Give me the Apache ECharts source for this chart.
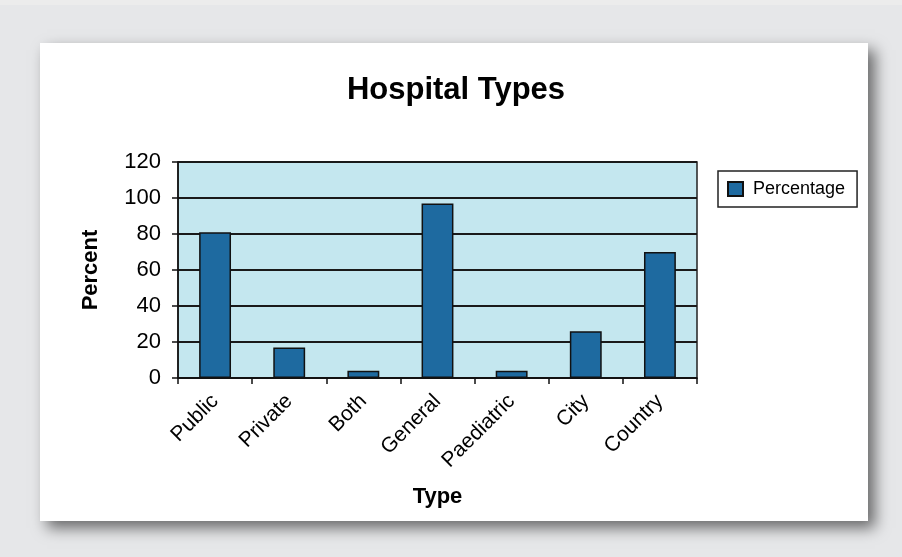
<!DOCTYPE html>
<html>
<head>
<meta charset="utf-8">
<script src="https://cdn.jsdelivr.net/npm/echarts@6/dist/echarts.min.js"></script>
<style>html,body{margin:0;padding:0;background:#e6e7e9;}#c{width:902px;height:557px;}</style>
</head>
<body>
<div id="c"></div>
<script>
const categories = ['Public', 'Private', 'Both', 'General', 'Paediatric', 'City', 'Country'];
const percentage = [81, 17, 4, 97, 4, 26, 70];
const yTicks = [0, 20, 40, 60, 80, 100, 120];

const FONT = 'Liberation Sans, Arial, sans-serif';
const chart = echarts.init(document.getElementById('c'));
chart.setOption({
  backgroundColor: '#e6e7e9',
  animation: false,
  graphic: [
    { type: 'rect', z: -10, shape: { x: 0, y: 0, width: 902, height: 5 }, style: { fill: '#ececec' } },
    { type: 'rect', z: -5, shape: { x: 40, y: 43, width: 828, height: 478 },
      style: { fill: '#ffffff', shadowBlur: 14, shadowOffsetX: 7, shadowOffsetY: 7, shadowColor: 'rgba(0,0,0,0.55)' } }
  ],
  title: {
    text: 'Hospital Types', left: 451, top: 70, textAlign: 'center',
    textStyle: { fontFamily: FONT, fontSize: 31, fontWeight: 'bold', color: '#000' }
  },
  legend: {
    left: 718, top: 171, orient: 'vertical',
    data: ['Percentage'], icon: 'rect', itemWidth: 15, itemHeight: 14,
    padding: [9, 12, 9, 9],
    backgroundColor: '#fff', borderColor: '#222', borderWidth: 1.5,
    textStyle: { fontFamily: FONT, fontSize: 18, color: '#000', padding: [0, 0, 0, 5] }
  },
  grid: {
    left: 178, right: 205, top: 162, bottom: 179, containLabel: false,
    show: true, backgroundColor: '#c4e7ef', borderColor: '#222', borderWidth: 1.5
  },
  xAxis: {
    type: 'category', data: categories,
    name: 'Type', nameLocation: 'middle', nameGap: 108,
    nameTextStyle: { fontFamily: FONT, fontSize: 22, fontWeight: 'bold', color: '#000' },
    axisLine: { lineStyle: { color: '#111', width: 1.5 } },
    axisTick: { show: true, length: 6, lineStyle: { color: '#111', width: 1.5 } },
    axisLabel: { rotate: 45, fontFamily: FONT, fontSize: 21, color: '#000', margin: 20 }
  },
  yAxis: {
    type: 'value', min: 0, max: 120, interval: 20,
    name: 'Percent', nameLocation: 'middle', nameGap: 76,
    nameTextStyle: { fontFamily: FONT, fontSize: 22, fontWeight: 'bold', color: '#000' },
    axisLine: { show: true, lineStyle: { color: '#111', width: 1.5 } },
    axisTick: { show: true, length: 6, lineStyle: { color: '#111', width: 1.5 } },
    axisLabel: { fontFamily: FONT, fontSize: 22, color: '#000', margin: 17,
      formatter: v => yTicks.includes(v) ? String(v) : '' },
    splitLine: { lineStyle: { color: '#1a1a1a', width: 1.8 } }
  },
  series: [{
    name: 'Percentage', type: 'bar', data: percentage,
    barWidth: '43%',
    itemStyle: { color: '#1e6aa0', borderColor: '#111', borderWidth: 1.5 }
  }]
});
</script>
</body>
</html>
